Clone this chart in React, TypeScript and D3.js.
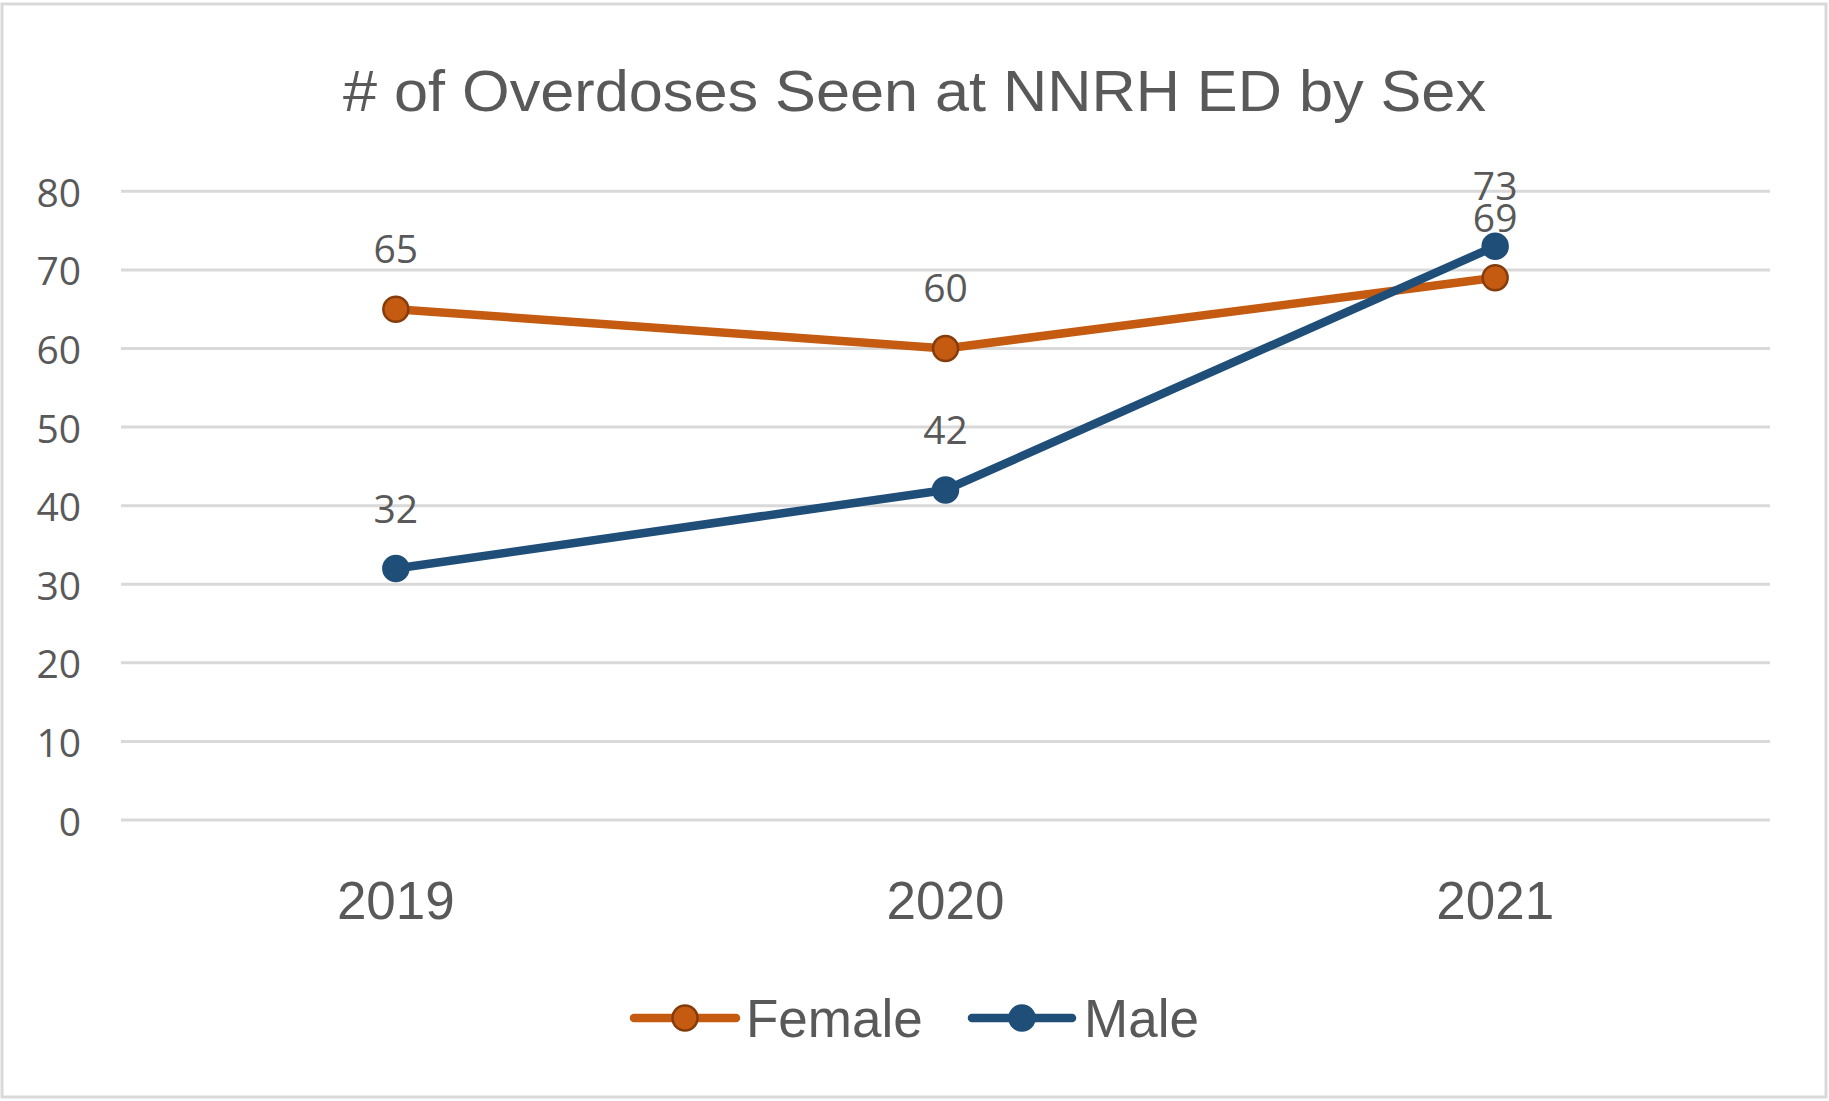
import React from 'react';
import * as d3 from 'd3';

const years = ['2019', '2020', '2021'];
const female = [65, 60, 69];
const male = [32, 42, 73];
const yTicks = [0, 10, 20, 30, 40, 50, 60, 70, 80];

const W = 1829;
const H = 1101;
const plot = { left: 121, right: 1770, top: 191.3, bottom: 820 };

const series = [
  { name: 'Female', values: female, color: '#C55A11', stroke: '#843C0C' },
  { name: 'Male', values: male, color: '#1F4E79', stroke: '#1F4E79' },
];

const App = () => {
  const x = d3.scalePoint<string>().domain(years).range([plot.left, plot.right]).padding(0.5);
  const y = d3.scaleLinear().domain([0, 80]).range([plot.bottom, plot.top]);

  const line = d3
    .line<number>()
    .x((_, i) => x(years[i]) as number)
    .y((d) => y(d));

  const tickFont = '"Open Sans", "DejaVu Sans", sans-serif';
  const catFont = '"Liberation Sans", Arial, sans-serif';

  // legend layout
  const legend = [
    { lineStart: 634, lineEnd: 736, textX: 746 },
    { lineStart: 972, lineEnd: 1072, textX: 1084 },
  ];
  const legendY = 1018;

  return (
    <div style={{ position: 'absolute', left: 0, top: 0 }}>
      <svg width={W} height={H} style={{ display: 'block', background: '#fff' }}>
        <rect x={2} y={4} width={1824} height={1093} fill="#fff" stroke="#D9D9D9" strokeWidth={3} />

        <text
          x={W / 2}
          y={111}
          textAnchor="middle"
          fontFamily={catFont}
          fontSize={58}
          fill="#595959"
          textLength={1143}
          lengthAdjust="spacingAndGlyphs"
        >
          # of Overdoses Seen at NNRH ED by Sex
        </text>

        {yTicks.map((t) => (
          <g key={t}>
            <line x1={plot.left} x2={plot.right} y1={y(t)} y2={y(t)} stroke="#D9D9D9" strokeWidth={3} />
            <text
              x={81}
              y={y(t)}
              textAnchor="end"
              dominantBaseline="central"
              fontFamily={tickFont}
              fontSize={39}
              fill="#595959"
            >
              {t}
            </text>
          </g>
        ))}

        {years.map((yr) => (
          <text
            key={yr}
            x={x(yr)}
            y={919}
            textAnchor="middle"
            fontFamily={catFont}
            fontSize={53}
            fill="#595959"
          >
            {yr}
          </text>
        ))}

        {series.map((s) => (
          <g key={s.name}>
            <path
              d={line(s.values) || ''}
              fill="none"
              stroke={s.color}
              strokeWidth={8.5}
              strokeLinejoin="round"
              strokeLinecap="round"
            />
            {s.values.map((v, i) => (
              <circle
                key={i}
                cx={x(years[i])}
                cy={y(v)}
                r={12.5}
                fill={s.color}
                stroke={s.stroke}
                strokeWidth={2.5}
              />
            ))}
          </g>
        ))}

        {series.map((s) =>
          s.values.map((v, i) => (
            <text
              key={s.name + i}
              x={x(years[i])}
              y={y(v) - 46}
              textAnchor="middle"
              fontFamily={tickFont}
              fontSize={39}
              fill="#595959"
            >
              {v}
            </text>
          ))
        )}

        {series.map((s, i) => {
          const l = legend[i];
          return (
            <g key={s.name}>
              <line
                x1={l.lineStart}
                x2={l.lineEnd}
                y1={legendY}
                y2={legendY}
                stroke={s.color}
                strokeWidth={8.5}
                strokeLinecap="round"
              />
              <circle
                cx={(l.lineStart + l.lineEnd) / 2}
                cy={legendY}
                r={12.5}
                fill={s.color}
                stroke={s.stroke}
                strokeWidth={2.5}
              />
              <text
                x={l.textX}
                y={legendY}
                dominantBaseline="central"
                fontFamily={catFont}
                fontSize={53}
                fill="#595959"
              >
                {s.name}
              </text>
            </g>
          );
        })}
      </svg>
    </div>
  );
};

export default App;
